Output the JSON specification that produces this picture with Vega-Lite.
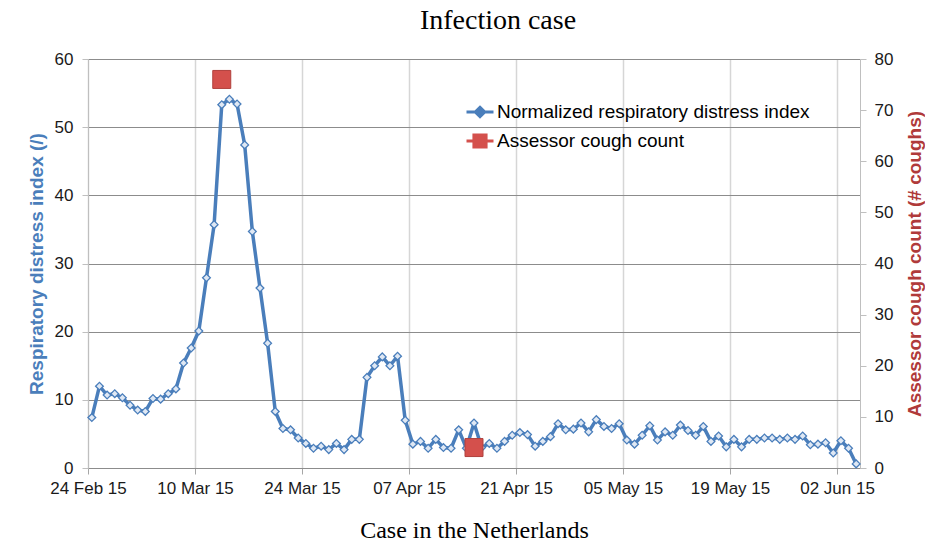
{
  "$schema": "https://vega.github.io/schema/vega-lite/v6.json",
  "width": 772,
  "height": 409,
  "autosize": {"type": "none"},
  "padding": {"left": 88, "top": 59, "right": 65, "bottom": 74},
  "background": "white",
  "config": {
    "view": {"stroke": null},
    "font": "Liberation Sans",
    "axis": {"labelFont": "Liberation Sans", "labelFontSize": 17, "labelColor": "#1a1a1a", "tickColor": "#a6a6a6", "domainColor": "#a6a6a6", "tickSize": 6}
  },
  "title": {"text": "Infection case", "font": "Liberation Serif", "fontSize": 28, "fontWeight": "normal", "color": "#000000", "anchor": "middle", "offset": 15, "dx": 24},
  "datasets": {
    "rdi": [
      {"date": "2015-02-24", "value": 7.4}, {"date": "2015-02-25", "value": 12.0}, {"date": "2015-02-26", "value": 10.7}, {"date": "2015-02-27", "value": 10.9}, {"date": "2015-02-28", "value": 10.3},
      {"date": "2015-03-01", "value": 9.2}, {"date": "2015-03-02", "value": 8.5}, {"date": "2015-03-03", "value": 8.3}, {"date": "2015-03-04", "value": 10.2}, {"date": "2015-03-05", "value": 10.1},
      {"date": "2015-03-06", "value": 10.9}, {"date": "2015-03-07", "value": 11.6}, {"date": "2015-03-08", "value": 15.4}, {"date": "2015-03-09", "value": 17.6}, {"date": "2015-03-10", "value": 20.1},
      {"date": "2015-03-11", "value": 27.9}, {"date": "2015-03-12", "value": 35.7}, {"date": "2015-03-13", "value": 53.3}, {"date": "2015-03-14", "value": 54.1}, {"date": "2015-03-15", "value": 53.4},
      {"date": "2015-03-16", "value": 47.4}, {"date": "2015-03-17", "value": 34.7}, {"date": "2015-03-18", "value": 26.4}, {"date": "2015-03-19", "value": 18.3}, {"date": "2015-03-20", "value": 8.3},
      {"date": "2015-03-21", "value": 5.8}, {"date": "2015-03-22", "value": 5.6}, {"date": "2015-03-23", "value": 4.4}, {"date": "2015-03-24", "value": 3.6}, {"date": "2015-03-25", "value": 2.9},
      {"date": "2015-03-26", "value": 3.2}, {"date": "2015-03-27", "value": 2.7}, {"date": "2015-03-28", "value": 3.6}, {"date": "2015-03-29", "value": 2.7}, {"date": "2015-03-30", "value": 4.2},
      {"date": "2015-03-31", "value": 4.2}, {"date": "2015-04-01", "value": 13.3}, {"date": "2015-04-02", "value": 15.0}, {"date": "2015-04-03", "value": 16.3}, {"date": "2015-04-04", "value": 15.0},
      {"date": "2015-04-05", "value": 16.4}, {"date": "2015-04-06", "value": 7.0}, {"date": "2015-04-07", "value": 3.5}, {"date": "2015-04-08", "value": 3.9}, {"date": "2015-04-09", "value": 2.9},
      {"date": "2015-04-10", "value": 4.2}, {"date": "2015-04-11", "value": 3.0}, {"date": "2015-04-12", "value": 2.9}, {"date": "2015-04-13", "value": 5.6}, {"date": "2015-04-14", "value": 2.9},
      {"date": "2015-04-15", "value": 6.6}, {"date": "2015-04-16", "value": 3.0}, {"date": "2015-04-17", "value": 3.6}, {"date": "2015-04-18", "value": 2.9}, {"date": "2015-04-19", "value": 3.9},
      {"date": "2015-04-20", "value": 4.8}, {"date": "2015-04-21", "value": 5.2}, {"date": "2015-04-22", "value": 4.9}, {"date": "2015-04-23", "value": 3.2}, {"date": "2015-04-24", "value": 3.9},
      {"date": "2015-04-25", "value": 4.6}, {"date": "2015-04-26", "value": 6.5}, {"date": "2015-04-27", "value": 5.6}, {"date": "2015-04-28", "value": 5.7}, {"date": "2015-04-29", "value": 6.6},
      {"date": "2015-04-30", "value": 5.3}, {"date": "2015-05-01", "value": 7.1}, {"date": "2015-05-02", "value": 6.1}, {"date": "2015-05-03", "value": 5.8}, {"date": "2015-05-04", "value": 6.5},
      {"date": "2015-05-05", "value": 4.1}, {"date": "2015-05-06", "value": 3.5}, {"date": "2015-05-07", "value": 4.8}, {"date": "2015-05-08", "value": 6.2}, {"date": "2015-05-09", "value": 4.1},
      {"date": "2015-05-10", "value": 5.3}, {"date": "2015-05-11", "value": 4.8}, {"date": "2015-05-12", "value": 6.3}, {"date": "2015-05-13", "value": 5.5}, {"date": "2015-05-14", "value": 4.8},
      {"date": "2015-05-15", "value": 6.1}, {"date": "2015-05-16", "value": 3.9}, {"date": "2015-05-17", "value": 4.7}, {"date": "2015-05-18", "value": 3.1}, {"date": "2015-05-19", "value": 4.2},
      {"date": "2015-05-20", "value": 3.1}, {"date": "2015-05-21", "value": 4.2}, {"date": "2015-05-22", "value": 4.2}, {"date": "2015-05-23", "value": 4.4}, {"date": "2015-05-24", "value": 4.4},
      {"date": "2015-05-25", "value": 4.2}, {"date": "2015-05-26", "value": 4.4}, {"date": "2015-05-27", "value": 4.2}, {"date": "2015-05-28", "value": 4.7}, {"date": "2015-05-29", "value": 3.4},
      {"date": "2015-05-30", "value": 3.5}, {"date": "2015-05-31", "value": 3.7}, {"date": "2015-06-01", "value": 2.2}, {"date": "2015-06-02", "value": 4.0}, {"date": "2015-06-03", "value": 2.9},
      {"date": "2015-06-04", "value": 0.6}
    ],
    "cough": [
      {"date": "2015-03-13", "count": 76},
      {"date": "2015-04-15", "count": 4}
    ]
  },
  "layer": [
    {
      "data": {"name": "rdi", "format": {"parse": {"date": "date:'%Y-%m-%d'"}}},
      "encoding": {
        "x": {
          "field": "date", "type": "temporal", "timeUnit": "yearmonthdate", "bandPosition": 0.5,
          "scale": {"domain": [{"year": 2015, "month": 2, "date": 24}, {"year": 2015, "month": 6, "date": 5}], "nice": false},
          "axis": {
            "values": [
              {"year": 2015, "month": 2, "date": 24}, {"year": 2015, "month": 3, "date": 10}, {"year": 2015, "month": 3, "date": 24}, {"year": 2015, "month": 4, "date": 7},
              {"year": 2015, "month": 4, "date": 21}, {"year": 2015, "month": 5, "date": 5}, {"year": 2015, "month": 5, "date": 19}, {"year": 2015, "month": 6, "date": 2}
            ],
            "format": "%d %b %y", "formatType": "time", "labelFlush": false, "labelOverlap": false,
            "title": "Case in the Netherlands", "titleFont": "Liberation Serif", "titleFontSize": 24, "titleFontWeight": "normal", "titleColor": "#000000", "titlePadding": 22,
            "grid": true, "gridColor": "#d6d6d6", "gridWidth": 1.5, "labelPadding": 6, "domainColor": "#8c8c8c"
          }
        },
        "y": {
          "field": "value", "type": "quantitative",
          "scale": {"domain": [0, 60], "nice": false},
          "axis": {
            "values": [0, 10, 20, 30, 40, 50, 60],
            "title": "Respiratory distress index (/)", "titleColor": "#4A7EBB", "titleFont": "Liberation Sans", "titleFontSize": 19, "titleFontWeight": "bold", "titlePadding": 8,
            "grid": true, "gridColor": "#8c8c8c", "gridWidth": 1, "labelPadding": 9, "domainColor": "#bfbfbf", "tickColor": "#bfbfbf"
          }
        }
      },
      "layer": [
        {
          "mark": {"type": "line", "strokeWidth": 3.5, "strokeJoin": "round"},
          "encoding": {
            "color": {
              "datum": "Normalized respiratory distress index",
              "scale": {"domain": ["Normalized respiratory distress index", "Assessor cough count"], "range": ["#4A7EBB", "#D4504C"]},
              "legend": {
                "orient": "none", "legendX": 377, "legendY": 38, "title": null,
                "labelFont": "Liberation Sans", "labelFontSize": 19, "labelColor": "#000000", "labelOffset": 2, "labelLimit": 0,
                "symbolSize": 729, "symbolStrokeWidth": 3, "rowPadding": 3, "padding": 0,
                "encode": {
                  "symbols": {
                    "update": {
                      "shape": {"signal": "datum.value === 'Assessor cough count' ? 'M-1,0H-0.45M0.45,0H1M-0.45,-0.45H0.45V0.45H-0.45Z' : 'M-1,0H-0.35M0.35,0H1M0,-0.35L0.35,0L0,0.35L-0.35,0Z'"},
                      "fill": {"signal": "datum.value === 'Assessor cough count' ? '#D4504C' : '#dfe8f4'"},
                      "stroke": {"signal": "datum.value === 'Assessor cough count' ? '#C9413D' : '#4A7EBB'"},
                      "strokeWidth": {"value": 3},
                      "opacity": {"value": 1}
                    }
                  }
                }
              }
            }
          }
        },
        {
          "mark": {"type": "point", "shape": "diamond", "filled": true, "size": 60, "fill": "#dfe8f4", "stroke": "#4A7EBB", "strokeWidth": 1.3, "opacity": 1}
        }
      ]
    },
    {
      "data": {"name": "cough", "format": {"parse": {"date": "date:'%Y-%m-%d'"}}},
      "mark": {"type": "point", "shape": "square", "filled": true, "size": 324, "stroke": "#B0403D", "strokeWidth": 1, "opacity": 1},
      "encoding": {
        "x": {"field": "date", "type": "temporal", "timeUnit": "yearmonthdate", "bandPosition": 0.5},
        "y": {
          "field": "count", "type": "quantitative",
          "scale": {"domain": [0, 80], "nice": false},
          "axis": {
            "orient": "right", "values": [0, 10, 20, 30, 40, 50, 60, 70, 80], "grid": false,
            "title": "Assessor cough count (# coughs)", "titleColor": "#B03A3A", "titleFont": "Liberation Sans", "titleFontSize": 19, "titleFontWeight": "bold",
            "titleAngle": 270, "titleBaseline": "top", "titlePadding": 13,
            "labelPadding": 8, "domainColor": "#bfbfbf", "tickColor": "#bfbfbf"
          }
        },
        "color": {"datum": "Assessor cough count"}
      }
    }
  ],
  "resolve": {"scale": {"y": "independent"}}
}
